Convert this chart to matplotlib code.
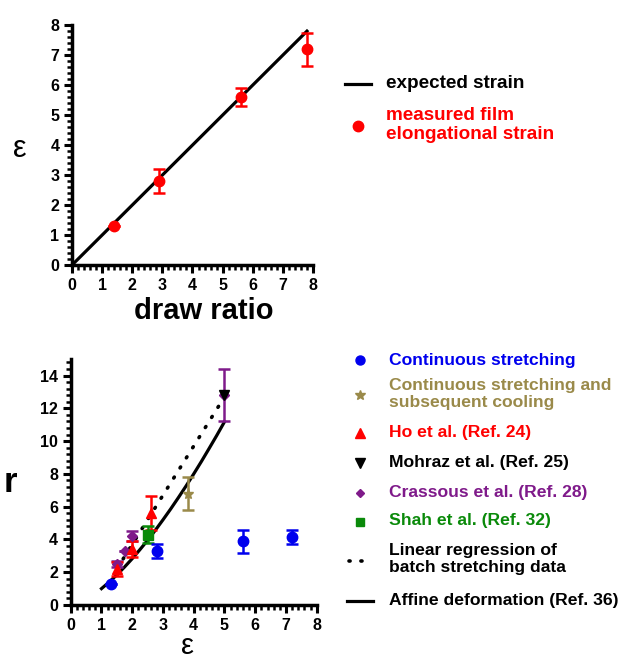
import matplotlib
matplotlib.use("Agg")
import matplotlib.pyplot as plt
from matplotlib.lines import Line2D
from matplotlib.ticker import MultipleLocator
import numpy as np

plt.rcParams['font.family'] = ['Liberation Sans', 'DejaVu Sans']
plt.rcParams['font.weight'] = 'bold'

# ---------- data: top panel ----------
draw_ratio = [1.4, 2.9, 5.6, 7.8]
measured_strain = [1.3, 2.8, 5.6, 7.2]
measured_err = [0.0, 0.4, 0.3, 0.55]
expected_x = [0, 7.8]
expected_y = [0, 7.8]

# ---------- data: bottom panel ----------
cont_eps = [1.3, 2.8, 5.6, 7.2]
cont_r = [1.3, 3.3, 3.9, 4.15]
cont_err = [0.0, 0.45, 0.7, 0.45]

cool_eps = [3.8]
cool_r = [6.8]
cool_err = [1.0]

ho_eps = [1.5, 2.0, 2.6]
ho_r = [2.2, 3.4, 5.6]
ho_err = [0.45, 0.5, 1.05]

mohraz_eps = [5.0]
mohraz_r = [12.8]

crassous_eps = [1.5, 1.75, 2.0, 5.0]
crassous_r = [2.5, 3.3, 4.2, 12.8]
crassous_err = [0.2, 0.0, 0.3, 1.6]

shah_eps = [2.5]
shah_r = [4.3]
shah_err = [0.5]

linreg_eps = [1.5, 4.9]
linreg_r = [2.2, 12.4]

affine_eps = [1.0, 1.25, 1.5, 1.75, 2.0, 2.25, 2.5, 2.75, 3.0, 3.25, 3.5,
              3.75, 4.0, 4.25, 4.5, 4.75, 5.0]
affine_r = [1.0, 1.4, 1.84, 2.32, 2.83, 3.38, 3.95, 4.56, 5.2, 5.86, 6.55,
            7.26, 8.0, 8.76, 9.55, 10.35, 11.18]

C_BLUE = '#0000ee'
C_TAN = '#9a8a4a'
C_RED = '#ff0000'
C_PURPLE = '#7f1a8a'
C_GREEN = '#0a8a0a'

fig = plt.figure(figsize=(6.26, 6.61), dpi=100)

def style_axes(ax):
    for s in ['top', 'right']:
        ax.spines[s].set_visible(False)
    for s in ['left', 'bottom']:
        ax.spines[s].set_linewidth(2.5)
    ax.tick_params(which='major', direction='out', length=6, width=2.2,
                   labelsize=11.5, pad=3)
    ax.tick_params(which='minor', direction='out', length=3.5, width=1.8)
    for lab in ax.get_xticklabels() + ax.get_yticklabels():
        lab.set_fontweight('bold')

# ---------- top axes ----------
ax1 = fig.add_axes([0.115, 0.599, 0.385, 0.363])
ax1.plot(expected_x, expected_y, color='black', lw=2.3, zorder=2)
ax1.errorbar(draw_ratio, measured_strain, yerr=measured_err, fmt='o',
             color=C_RED, ms=7.5, elinewidth=1.8, capsize=4, capthick=1.8, zorder=3)
ax1.set_xlim(0, 8)
ax1.set_ylim(0, 8)
ax1.xaxis.set_major_locator(MultipleLocator(1))
ax1.yaxis.set_major_locator(MultipleLocator(1))
ax1.xaxis.set_minor_locator(MultipleLocator(0.2))
ax1.yaxis.set_minor_locator(MultipleLocator(0.2))
style_axes(ax1)
ax1.set_xlabel('draw ratio', fontsize=21, fontweight='bold')
ax1.xaxis.set_label_coords(0.545, -0.135)
fig.text(0.032, 0.775, 'ε', fontsize=22, fontweight='normal', ha='center', va='center')

# ---------- bottom axes ----------
ax2 = fig.add_axes([0.113, 0.0847, 0.393, 0.372])
ax2.plot(affine_eps, affine_r, color='black', lw=2.3, zorder=2)
ax2.plot(linreg_eps, linreg_r, color='black', lw=2.6, ls=(0, (0.3, 3.0)),
         dash_capstyle='round', zorder=2)
eb = dict(elinewidth=1.8, capsize=4, capthick=1.8, zorder=3)
ax2.errorbar(crassous_eps, crassous_r, yerr=crassous_err, fmt='D', color=C_PURPLE, ms=5, **eb)
ax2.errorbar(ho_eps, ho_r, yerr=ho_err, fmt='^', color=C_RED, ms=7, **eb)
ax2.errorbar(shah_eps, shah_r, yerr=shah_err, fmt='s', color=C_GREEN, ms=7, **eb)
ax2.errorbar(cool_eps, cool_r, yerr=cool_err, fmt='*', color=C_TAN, ms=8, **eb)
ax2.errorbar(cont_eps, cont_r, yerr=cont_err, fmt='o', color=C_BLUE, ms=7.5, **eb)
ax2.plot(mohraz_eps, mohraz_r, 'v', color='black', ms=7, zorder=4)
ax2.set_xlim(0, 8)
ax2.set_ylim(0, 15)
ax2.xaxis.set_major_locator(MultipleLocator(1))
ax2.yaxis.set_major_locator(MultipleLocator(2))
ax2.xaxis.set_minor_locator(MultipleLocator(0.2))
ax2.yaxis.set_minor_locator(MultipleLocator(0.4))
style_axes(ax2)
fig.text(0.30, 0.022, 'ε', fontsize=21, fontweight='normal', ha='center', va='center')
fig.text(0.016, 0.27, 'r', fontsize=25, fontweight='bold', ha='center', va='center')

# ---------- legends (drawn in figure coordinates) ----------
W, H = 626.0, 661.0

def fx(px):
    return px / W

def fy(py):
    return 1 - py / H

def leg_marker(px, py, marker, color, ms):
    fig.add_artist(Line2D([fx(px)], [fy(py)], marker=marker, color=color, ms=ms,
                          ls='none', transform=fig.transFigure))

def leg_line(px0, px1, py, ls='-', lw=2.3):
    fig.add_artist(Line2D([fx(px0), fx(px1)], [fy(py), fy(py)], color='black', lw=lw,
                          ls=ls, transform=fig.transFigure, dash_capstyle='round'))

def leg_text(px, py, s, color, size=12.6):
    fig.text(fx(px), fy(py), s, color=color, fontsize=size, fontweight='bold',
             va='center', ha='left', linespacing=1.1)

# top legend
leg_line(345, 371, 84)
leg_text(386, 84, 'expected strain', 'black', 13.6)
leg_marker(358, 126, 'o', C_RED, 7.5)
leg_text(386, 125, 'measured film\nelongational strain', C_RED, 13.6)

# bottom legend
lx = 360
tx = 389
leg_marker(lx, 360, 'o', C_BLUE, 6.5)
leg_text(tx, 360, 'Continuous stretching', C_BLUE)
leg_marker(lx, 395, '*', C_TAN, 7)
leg_text(tx, 394, 'Continuous stretching and\nsubsequent cooling', C_TAN)
leg_marker(lx, 433, '^', C_RED, 6.5)
leg_text(tx, 432, 'Ho et al. (Ref. 24)', C_RED)
leg_marker(lx, 463, 'v', 'black', 6.5)
leg_text(tx, 462, 'Mohraz et al. (Ref. 25)', 'black')
leg_marker(lx, 493, 'D', C_PURPLE, 4.5)
leg_text(tx, 492, 'Crassous et al. (Ref. 28)', C_PURPLE)
leg_marker(lx, 522, 's', C_GREEN, 6)
leg_text(tx, 521, 'Shah et al. (Ref. 32)', C_GREEN)
leg_line(349, 371, 561, ls=(0, (0.3, 3.0)), lw=2.6)
leg_text(tx, 559, 'Linear regression of\nbatch stretching data', 'black')
leg_line(347, 373, 601)
leg_text(tx, 600, 'Affine deformation (Ref. 36)', 'black')

fig.savefig('out.png', dpi=100)
